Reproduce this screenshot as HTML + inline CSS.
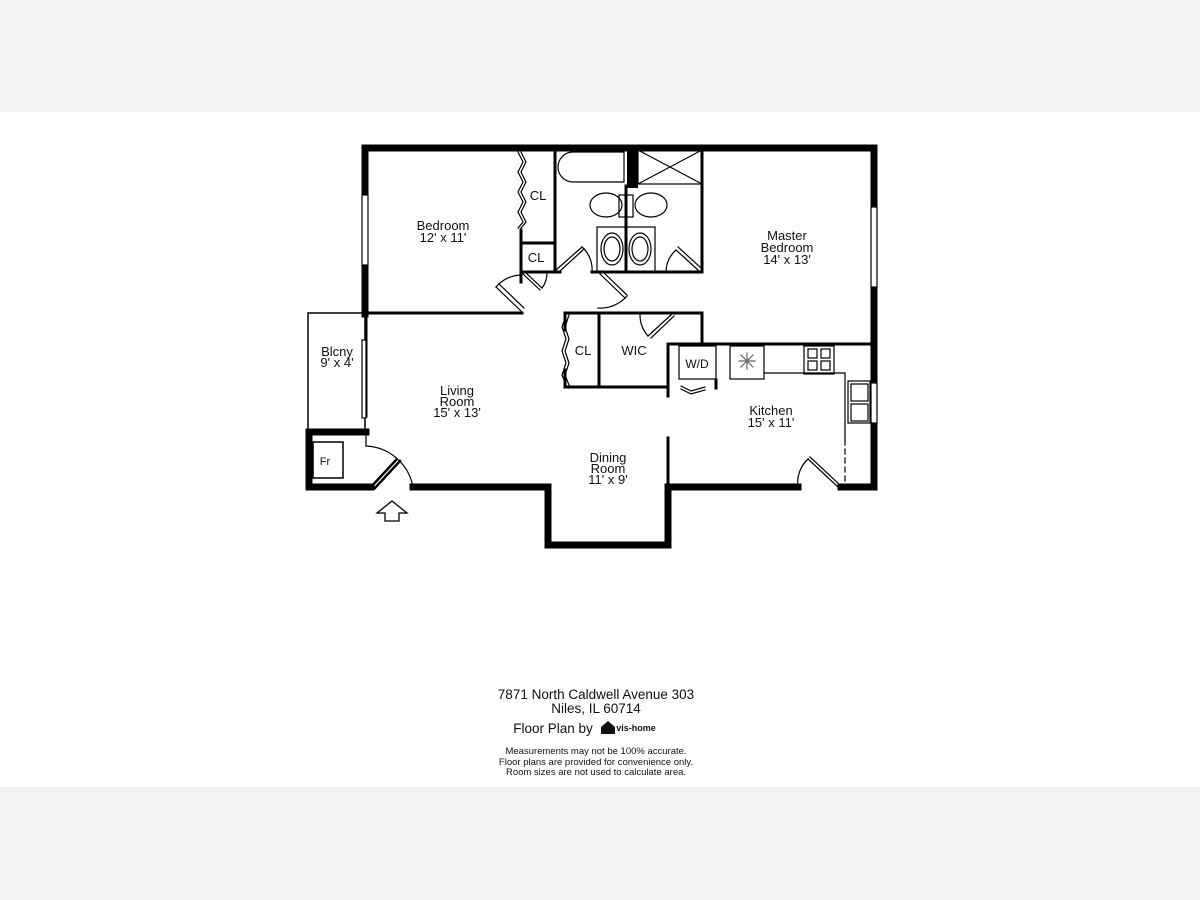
<!DOCTYPE html>
<html><head><meta charset="utf-8"><style>
html,body{margin:0;padding:0;background:#f2f2f2}
svg{display:block}
text{font-family:"Liberation Sans",sans-serif;fill:#111}
</style></head><body>
<svg width="1200" height="900" viewBox="0 0 1200 900" xmlns="http://www.w3.org/2000/svg">
<rect x="0" y="0" width="1200" height="900" fill="#f2f2f2"/>
<rect x="0" y="112" width="1200" height="675" fill="#fff"/>
<g stroke="#000" fill="none" stroke-linecap="square">
<!-- thick outer walls -->
<g stroke-width="7">
<path d="M365 314 L365 148 L874 148 L874 487 L841 487"/>
<path d="M798 487 L668 487 L668 545 L548 545 L548 487 L413 487"/>
<path d="M371 487 L309 487 L309 432 L366 432"/>
</g>
<!-- thin walls -->
<g stroke-width="3">
<path d="M365 313 L522 313"/>
<path d="M366 316 L366 416"/>
<path d="M521 230 L521 282"/>
<path d="M521 150 L555 150 M521 243 L555 243 M521 272 L555 272"/>
<path d="M555 150 L555 272"/>
<path d="M626 186 L626 272"/>
<path d="M702 150 L702 272"/>
<path d="M592 272 L702 272 M554 272 L560 272"/>
<path d="M565 313 L700 313 M565 387 L668 387 M565 313 L565 330 M565 370 L565 387"/>
<path d="M599 313 L599 387"/>
<path d="M702 313 L702 344"/>
<path d="M668 344 L870 344"/>
<path d="M668 344 L668 396"/>
<path d="M716 380 L716 388"/>
<path d="M668 438 L668 487"/>
</g>
<!-- balcony -->
<rect x="308" y="313" width="57" height="117" stroke-width="1.5"/>
<rect x="313" y="442" width="30" height="36" stroke-width="1.5"/>
<!-- windows -->
<rect x="362" y="195" width="6" height="70" fill="#fff" stroke-width="1.2"/>
<rect x="871" y="207" width="6" height="80" fill="#fff" stroke-width="1.2"/>
<rect x="871" y="383" width="6" height="40" fill="#fff" stroke-width="1.2"/>
<rect x="362" y="340" width="4" height="78" fill="#fff" stroke-width="1.2"/>
<!-- bifold closets -->
<path d="M518 152 l5 10 l-5 10 l5 10 l-5 10 l5 10 l-5 10 l5 10 l-5 6" stroke-width="1.2"/>
<path d="M521 152 l5 10 l-5 10 l5 10 l-5 10 l5 10 l-5 10 l5 10 l-5 6" stroke-width="1.2"/>
<path d="M566 315 l-4 12 l4 12 l-4 12 l4 12 l-4 12 l4 10" stroke-width="1.2"/>
<path d="M569 315 l-4 12 l4 12 l-4 12 l4 12 l-4 12 l4 10" stroke-width="1.2"/>
<!-- doors -->
<g stroke-width="1.2">
<path d="M496 287 L521 311 M499 284 L524 308"/>
<path d="M496 287 A34 34 0 0 1 521 275"/>
<path d="M523 274 L540 290 M525 272 L542 288"/>
<path d="M542 288 A25 25 0 0 0 547 273"/>
<path d="M556 270 L582 247 M559 272 L584 249"/>
<path d="M582 247 A30 30 0 0 1 592 272"/>
<path d="M600 274 L625 298 M602 271 L627 295"/>
<path d="M627 296 A35 35 0 0 1 598 308"/>
<path d="M676 250 L698 270 M678 247 L700 267"/>
<path d="M676 250 A30 30 0 0 0 666 272"/>
<path d="M648 336 L672 314 M651 338 L674 316"/>
<path d="M648 336 A32 32 0 0 1 640 314"/>
<path d="M681 386 l10 5 l14 -4 M681 389 l10 5 l14 -4"/>
<path d="M808 459 L838 487 M810 457 L840 485"/>
<path d="M808 459 A32 32 0 0 0 798 487"/>
<path d="M371 487 L396 460 M375 488 L400 461" stroke-width="2.5"/>
<path d="M366 446 A50 50 0 0 1 413 487"/>
<path d="M366 432 L366 446"/>
</g>
<!-- entry arrow -->
<path d="M392 501 L407 513 L399 513 L399 521 L385 521 L385 513 L377 513 Z" stroke-width="1.3" fill="#fff"/>
<!-- bathroom fixtures -->
<g stroke-width="1.2">
<path d="M573 152 L624 152 L624 182 L573 182 A15 15 0 0 1 573 152 Z"/>
<rect x="638" y="150" width="64" height="34"/>
<path d="M638 150 L702 184 M702 150 L638 184"/>
<ellipse cx="606" cy="205" rx="16" ry="12"/>
<ellipse cx="651" cy="205" rx="16" ry="12"/>
<rect x="619" y="195" width="14" height="22"/>
<rect x="597" y="227" width="29" height="45"/>
<rect x="626" y="227" width="29" height="45"/>
<ellipse cx="612" cy="249" rx="11" ry="16"/>
<ellipse cx="612" cy="249" rx="8" ry="12"/>
<ellipse cx="640" cy="249" rx="11" ry="16"/>
<ellipse cx="640" cy="249" rx="8" ry="12"/>
<!-- kitchen -->
<rect x="679" y="346" width="37" height="33"/>
<rect x="730" y="346" width="34" height="33"/>
<path d="M764 373 L845 373 L845 440"/>
<path d="M845 440 L845 487" stroke-dasharray="5 4"/>
<rect x="804" y="346" width="30" height="28"/>
<rect x="808" y="349" width="9" height="9"/><rect x="821" y="349" width="9" height="9"/>
<rect x="808" y="361" width="9" height="9"/><rect x="821" y="361" width="9" height="9"/>
<rect x="848" y="381" width="22" height="42"/>
<rect x="851" y="384" width="17" height="17"/><rect x="851" y="404" width="17" height="17"/>
<path d="M739 361 L755 361 M747 353 L747 369 M741 355 L753 367 M753 355 L741 367" stroke="#666"/>
</g>
</g>
<rect x="627" y="150" width="11" height="38" fill="#000"/>
<!-- labels -->
<g font-size="13" text-anchor="middle">
<text x="443" y="230">Bedroom</text><text x="443" y="242">12' x 11'</text>
<text x="538" y="200">CL</text><text x="536" y="262">CL</text>
<text x="787" y="240">Master</text><text x="787" y="252">Bedroom</text><text x="787" y="264">14' x 13'</text>
<text x="337" y="356">Blcny</text><text x="337" y="367">9' x 4'</text>
<text x="457" y="395">Living</text><text x="457" y="406">Room</text><text x="457" y="417">15' x 13'</text>
<text x="583" y="355">CL</text><text x="634" y="355">WIC</text>
<text x="697" y="368" font-size="12">W/D</text>
<text x="771" y="415">Kitchen</text><text x="771" y="427">15' x 11'</text>
<text x="608" y="462">Dining</text><text x="608" y="473">Room</text><text x="608" y="484">11' x 9'</text>
<text x="325" y="465" font-size="11">Fr</text>
<text x="596" y="699" font-size="13.5">7871 North Caldwell Avenue 303</text>
<text x="596" y="713" font-size="13.5">Niles, IL 60714</text>
<text x="553" y="733" font-size="13.5">Floor Plan by</text>
<text x="636" y="731" font-size="9" font-weight="bold">vis-home</text>
<text x="596" y="754" font-size="9.5">Measurements may not be 100% accurate.</text>
<text x="596" y="765" font-size="9.5">Floor plans are provided for convenience only.</text>
<text x="596" y="775" font-size="9.5">Room sizes are not used to calculate area.</text>
</g>
<path d="M601 727 L608 721 L615 727 L615 734 L601 734 Z" fill="#111"/>
</svg>
</body></html>
